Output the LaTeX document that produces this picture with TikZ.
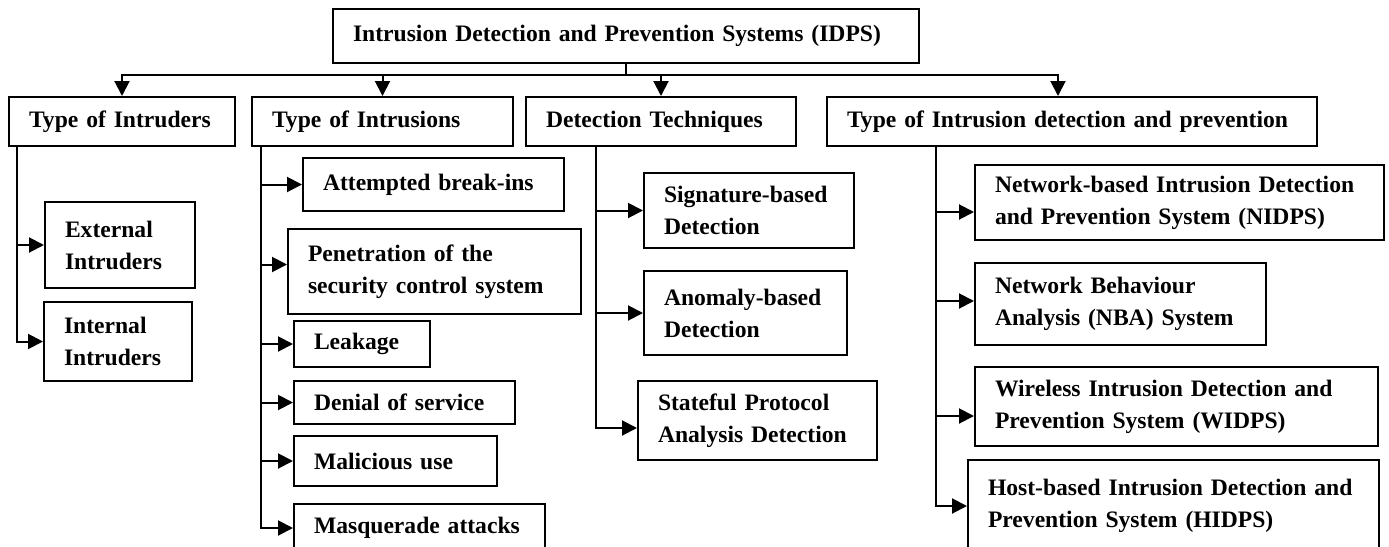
\documentclass[tikz,border=0pt]{standalone}
\usepackage{fontspec}
\setmainfont{Liberation Serif}
\usetikzlibrary{arrows.meta}
\begin{document}
\begin{tikzpicture}[x=0.5pt,y=-0.5pt,
  box/.style={draw, line width=1pt, anchor=north west, align=left, inner xsep=10pt, inner ysep=0pt,
    font=\fontsize{11.8}{16}\selectfont\bfseries},
  arr/.style={line width=1pt, -{Triangle[length=7.5pt,width=7.5pt]}},
  ln/.style={line width=1pt}]
\useasboundingbox (0,0) rectangle (1389,547);
\node[box, text width=273pt, minimum height=27pt] (idps) at (332,8){Intrusion Detection and Prevention Systems (IDPS)};
\node[box, text width=93pt, minimum height=24.5pt] (intruders) at (8,96){Type of Intruders};
\node[box, text width=110.5pt, minimum height=24.5pt] (intrusions) at (251,96){Type of Intrusions};
\node[box, text width=115pt, minimum height=24.5pt] (techniques) at (525,96){Detection Techniques};
\node[box, text width=225pt, minimum height=24.5pt] (types) at (826,96){Type of Intrusion detection and prevention};
\draw[ln] (idps.south) -- ++(0,11) coordinate (bus);
\draw[arr] (bus) -| (intruders.north);
\draw[arr] (bus) -| (intrusions.north);
\draw[arr] (bus) -| (techniques.north);
\draw[arr] (bus) -| ([xshift=-7pt]types.north);
% intruders
\node[box, text width=55pt, minimum height=43pt] (external) at (44,201){External\\Intruders};
\node[box, text width=54pt, minimum height=39.5pt] (internal) at (43,301){Internal\\Intruders};
\draw[arr] ([xshift=4.5pt]intruders.south west) |- (external.west);
\draw[arr] ([xshift=4.5pt]intruders.south west) |- (internal.west);
% intrusions
\node[box, text width=110.5pt, minimum height=26.5pt] (attempted) at (302,157){Attempted break-ins};
\node[box, text width=126.5pt, minimum height=42.5pt] (penetration) at (287,228){Penetration of the\\security control system};
\node[box, text width=48pt, minimum height=23pt] (leakage) at (293,320){Leakage};
\node[box, text width=90.5pt, minimum height=21.5pt] (denial) at (293,380){Denial of service};
\node[box, text width=81.5pt, minimum height=25pt] (malicious) at (293,435){Malicious use};
\node[box, text width=105.5pt, minimum height=24pt] (masquerade) at (293,503){Masquerade attacks};
\draw[arr] ([xshift=5pt]intrusions.south west) |- (attempted.west);
\draw[arr] ([xshift=5pt]intrusions.south west) |- ([yshift=3.5pt]penetration.west);
\draw[arr] ([xshift=5pt]intrusions.south west) |- (leakage.west);
\draw[arr] ([xshift=5pt]intrusions.south west) |- (denial.west);
\draw[arr] ([xshift=5pt]intrusions.south west) |- (malicious.west);
\draw[arr] ([xshift=5pt]intrusions.south west) |- (masquerade.west);
% techniques
\node[box, text width=85pt, minimum height=37.5pt] (signature) at (643,172){Signature-based\\Detection};
\node[box, text width=81.5pt, minimum height=42pt] (anomaly) at (643,270){Anomaly-based\\Detection};
\node[box, text width=99.5pt, minimum height=39.5pt] (stateful) at (637,380){Stateful Protocol\\Analysis Detection};
\draw[arr] ([xshift=35.5pt]techniques.south west) |- (signature.west);
\draw[arr] ([xshift=35.5pt]techniques.south west) |- (anomaly.west);
\draw[arr] ([xshift=35.5pt]techniques.south west) |- ([yshift=-3.75pt]stateful.west);
% types of IDPS
\node[box, text width=184.5pt, minimum height=37.5pt] (nidps) at (974,164){Network-based Intrusion Detection\\and Prevention System (NIDPS)};
\node[box, text width=125.5pt, minimum height=41pt] (nba) at (974,262){Network Behaviour\\Analysis (NBA) System};
\node[box, text width=181.5pt, minimum height=39.5pt] (widps) at (974,366){Wireless Intrusion Detection and\\Prevention System (WIDPS)};
\node[box, text width=185.5pt, minimum height=46pt] (hidps) at (967,459){Host-based Intrusion Detection and\\Prevention System (HIDPS)};
\draw[arr] ([xshift=55pt]types.south west) |- ([yshift=-4.75pt]nidps.west);
\draw[arr] ([xshift=55pt]types.south west) |- ([yshift=1.5pt]nba.west);
\draw[arr] ([xshift=55pt]types.south west) |- ([yshift=-4.75pt]widps.west);
\draw[arr] ([xshift=55pt]types.south west) |- (hidps.west);
\end{tikzpicture}
\end{document}
